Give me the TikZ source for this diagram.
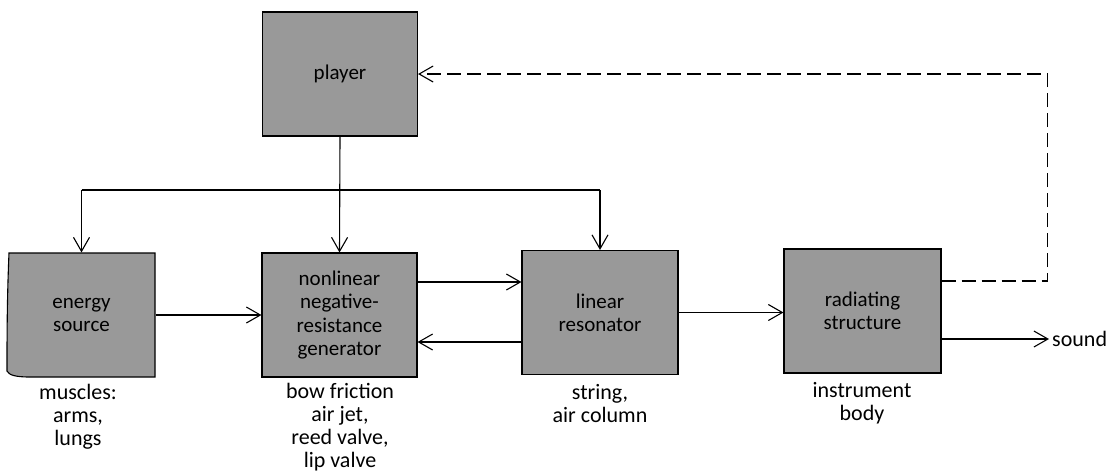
\documentclass[tikz,border=0pt]{standalone}
\usepackage{fontspec}
\setmainfont{Carlito}
\usetikzlibrary{arrows.meta}
\begin{document}
\begin{tikzpicture}[x=1pt,y=-1pt,
  blk/.style={draw=black, line width=1.1pt, fill=black!40, minimum width=155pt, minimum height=124pt, inner sep=0pt, align=center, font=\fontsize{21}{23.3}\selectfont},
  lbl/.style={align=center, anchor=north, font=\fontsize{22}{23}\selectfont, inner sep=0pt},
  conn/.style={line width=1.1pt, -{Straight Barb[length=14pt,width=16pt,line width=1.1pt]}},
  plain/.style={line width=1.1pt},
  fb/.style={conn, dash pattern=on 14pt off 6pt}]
\useasboundingbox (0,0) rectangle (1108,475);

% energy source shape (slightly curled left edge)
\path[fill=black!40, draw=black, line width=1.1pt]
  (155,253) -- (9,253) .. controls (7,300) and (7,340) .. (7,371)
  .. controls (9,375) and (15,377) .. (30,377) -- (155,377) -- cycle;

\node[blk] (player) at (340,74) {player};
\node[blk, draw=none, fill=none, minimum width=147pt] (energy) at (81.5,315) {energy\\source};
\node[blk] (nonlin) at (339.5,315) {nonlinear\\negative-\\resistance\\generator};
\node[blk, minimum width=156pt] (lin) at (600,312.5) {linear\\resonator};
\node[blk, minimum width=157pt] (rad) at (862.5,311) {radiating\\structure};
\node[anchor=west, inner sep=3pt, font=\fontsize{22}{23}\selectfont] (sound) at (1049,339) {sound};

\node[lbl] (l1) at (78,384) {muscles:\\arms,\\lungs};
\node[lbl] (l2) at (340,383) {bow friction\\air jet,\\reed valve,\\lip valve};
\node[lbl] (l3) at (600,384) {string,\\air column};
\node[lbl] (l4) at (862,382) {instrument\\body};

% player distribution
\coordinate (bar) at (0,190);
\draw[conn] (player.south) -- (nonlin.north);
\draw[plain] (energy.north |- bar) -- (lin.north |- bar);
\draw[conn] (energy.north |- bar) -- (energy.north);
\draw[conn] (lin.north |- bar) -- (lin.north);

% signal chain
\draw[conn] (energy.east) -- (nonlin.west);
\draw[conn] ([yshift=33pt]nonlin.east) coordinate (a1) -- (a1 -| lin.west);
\draw[conn] ([yshift=-29.5pt]lin.west) coordinate (a2) -- (a2 -| nonlin.east);
\draw[conn] (lin.east) -- (lin.east -| rad.west);
\draw[conn] ([yshift=-28pt]rad.east) -- (sound.west);

% feedback
\draw[fb] ([yshift=30pt]rad.east) -- ++(106,0) |- (player.east);
\end{tikzpicture}
\end{document}
